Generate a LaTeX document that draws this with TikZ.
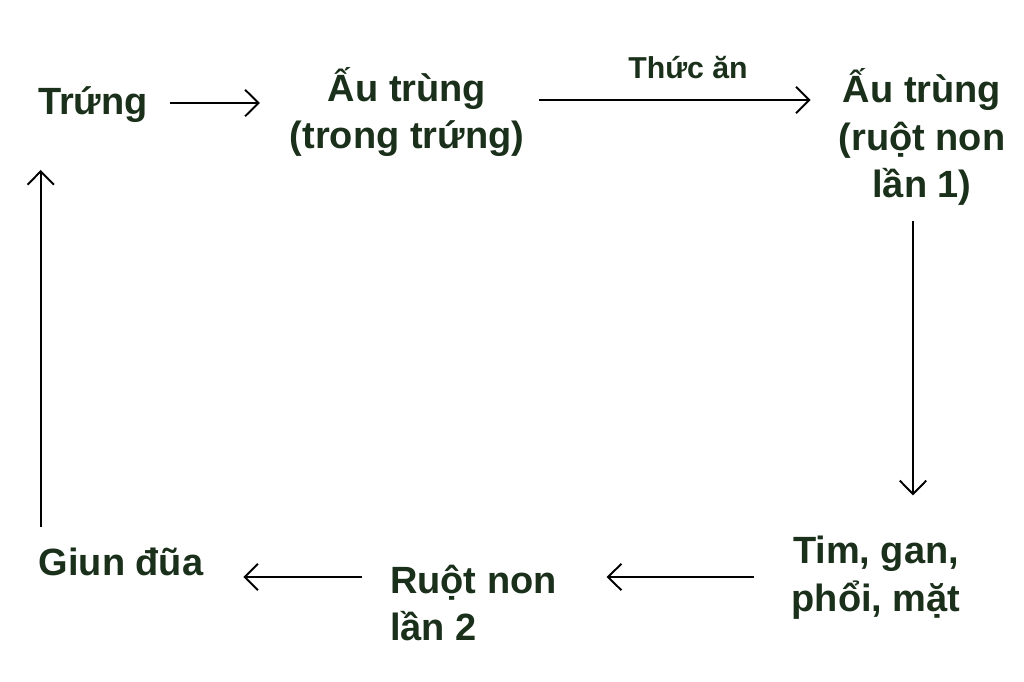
\documentclass[tikz,border=0pt]{standalone}
\usepackage{fontspec}
\setmainfont{Liberation Sans}
\usetikzlibrary{arrows.meta,calc}
\definecolor{txtgreen}{RGB}{26,48,26}
\tikzset{
  lbl/.style={font=\bfseries\fontsize{10.8}{13.6}\selectfont, text=txtgreen, inner sep=0pt, outer sep=0pt},
  small/.style={font=\bfseries\fontsize{8.6}{10}\selectfont, text=txtgreen, inner sep=0pt},
  arr/.style={draw=black, line width=0.55pt, -{Straight Barb[length=3.8pt,width=7.5pt]}}
}
\begin{document}
\begin{tikzpicture}[x=0.01cm,y=-0.01cm]
\useasboundingbox (0,0) rectangle (1024,681);
\fill[white] (0,0) rectangle (1024,681);
\node[lbl] (tr) at (93,105) {Trứng};
\node[lbl, align=center] (au1) at (407,112) {Ấu trùng\\(trong trứng)};
\node[lbl, align=center] (au2) at (922,137) {Ấu trùng\\(ruột non\\lần 1)};
\node[lbl, align=center] (tim) at (876,578) {Tim, gan,\\phổi, mặt};
\node[lbl, align=left, anchor=west] (rn) at (390,603) {Ruột non\\lần 2};
\node[lbl] (gd) at (121,562) {Giun đũa};
\node[small] (ta) at (688,68) {Thức ăn};
% connectors
\draw[arr] ($(tr.east)+(22,-2)$) -- ($(au1.west |- tr.east)+(-30,-2)$);
\draw[arr] ($(au1.east)+(15,-12)$) -- ($(au2.west |- au1.east)+(-28,-12)$);
\draw[arr] ($(au2.south)+(-9,15)$) -- ($(au2.south |- tim.north)+(-9,-41)$);
\draw[arr] ($(tim.west)+(-38,-1)$) -- ($(rn.east |- tim.west)+(50,-1)$);
\draw[arr] ($(rn.west |- tim.west)+(-28,-1)$) -- ($(gd.east |- tim.west)+(40,-1)$);
\draw[arr] ($(gd.north west)+(2,-21)$) -- ($(gd.north west |- tr.south)+(2,47)$);
\end{tikzpicture}
\end{document}
